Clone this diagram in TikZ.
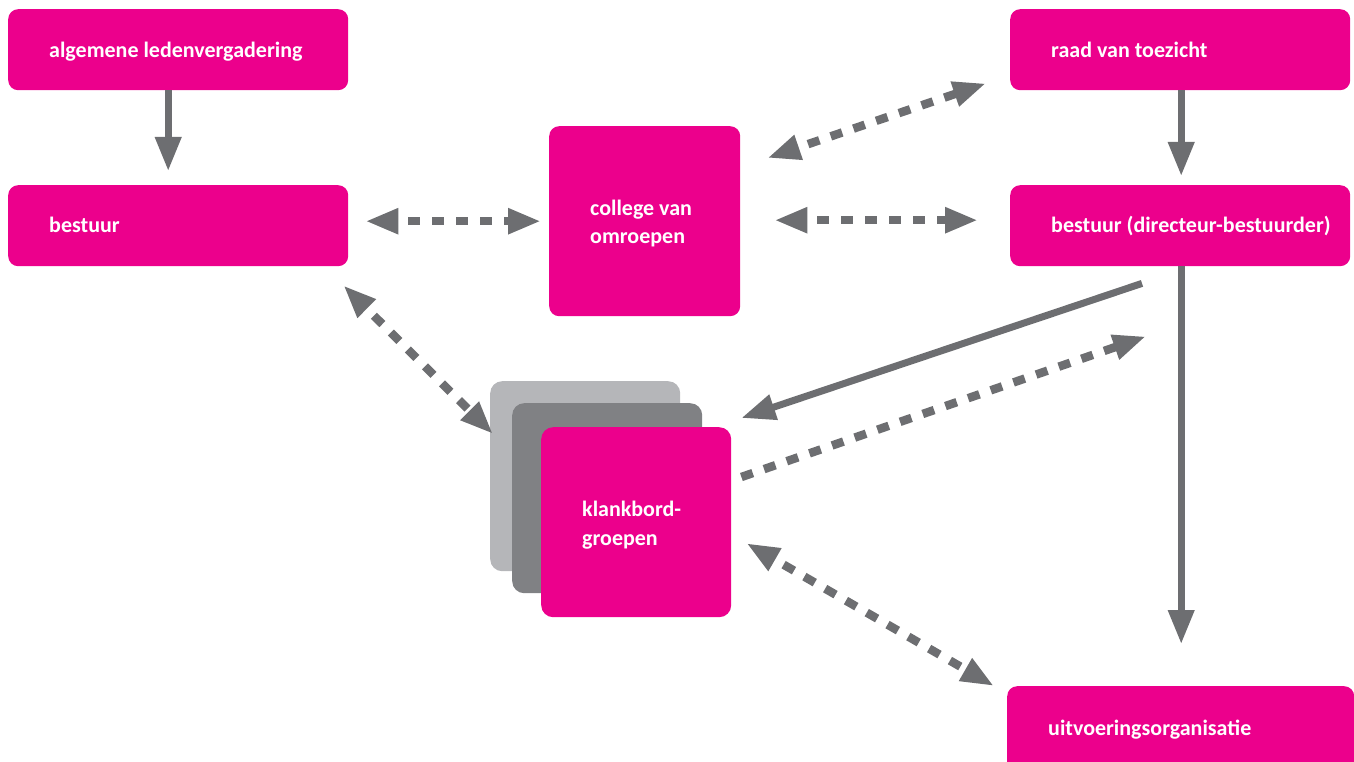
\documentclass[tikz,border=0pt]{standalone}
\usepackage{fontspec}
\setmainfont{Carlito}
\usetikzlibrary{arrows.meta,calc}
\definecolor{pinkc}{HTML}{EC008C}
\definecolor{arrowc}{HTML}{6D6E71}
\definecolor{lgray}{HTML}{B5B6B9}
\definecolor{dgray}{HTML}{808184}
\tikzset{
  box/.style={fill=pinkc, draw=none, rounded corners=10pt, anchor=north west, inner sep=0pt},
  wide/.style={box, minimum width=340pt, minimum height=81pt},
  lbl/.style={text=white, font=\fontsize{22}{28}\selectfont\bfseries, anchor=base west, inner sep=0pt, align=left},
  solidarr/.style={draw=arrowc, line width=7pt, -{Triangle[length=34pt,width=25pt]}},
  dasharr/.style={draw=arrowc, line width=8.5pt, dash pattern=on 12pt off 12pt, dash phase=12pt,
    {Triangle[length=33pt,width=24pt]}-{Triangle[length=33pt,width=24pt]}},
  dasharrone/.style={draw=arrowc, line width=8.5pt, dash pattern=on 12pt off 12pt,
    -{Triangle[length=33pt,width=24pt]}}
}
\begin{document}
\begin{tikzpicture}[x=1pt,y=-1pt]
\useasboundingbox (0,0) rectangle (1354,762);
% boxes
\node[wide] (alv) at (8,9) {};
\node[wide] (bst) at (8,185) {};
\node[wide] (raad) at (1010,9) {};
\node[wide] (bdb) at (1010,185) {};
\node[box, minimum width=191pt, minimum height=190pt] (col) at (549,126) {};
\node[box, minimum width=347pt, minimum height=90pt] (uit) at (1007,686) {};
\node[box, fill=lgray, rounded corners=12pt, minimum width=190pt, minimum height=190pt] (kb3) at (490,381) {};
\node[box, fill=dgray, rounded corners=12pt, minimum width=190pt, minimum height=190pt] (kb2) at (512,403) {};
\node[box, rounded corners=12pt, minimum width=190pt, minimum height=190pt] (kb) at (541,427) {};
% labels
\node[lbl] (talv) at (49,58) {algemene ledenvergadering};
\node[lbl] (tbst) at (49,233) {bestuur};
\node[lbl] (traad) at (1051,58) {raad van toezicht};
\node[lbl] (tbdb) at (1051,233) {bestuur (directeur-bestuurder)};
\node[lbl] (tcol1) at (590,215) {college van};
\node[lbl] (tcol2) at (590,243) {omroepen};
\node[lbl] (tkb1) at (582,516) {klankbord-};
\node[lbl] (tkb2) at (582,545) {groepen};
\node[lbl] (tuit) at (1048,735) {uitvoeringsorganisatie};
% solid arrows
\draw[solidarr] ($(alv.south)+(-10,0)$) -- ($(bst.north)+(-10,-14)$);
\draw[solidarr] ($(raad.south)+(1,0)$) -- ($(bdb.north)+(1,-9)$);
\draw[solidarr] ($(bdb.south)+(1,0)$) -- ($(uit.north)+(0.5,-42)$);
\draw[solidarr] ($(bdb.south west)+(132,17)$) -- ($(kb.north east)+(10,-9)$);
% dashed arrows
\draw[dasharr] ($(bst.east |- col.west)+(17,0)$) -- ($(col.west)+(-8,0)$);
\draw[dasharr] ($(col.east)+(34,-1)$) -- ($(bdb.west |- col.east)+(-32,-1)$);
\draw[dasharr] ($(col.north east)+(27,32)$) -- ($(raad.south west)+(-24,-7)$);
\draw[dasharr] ($(bst.south east)+(-5,19)$) -- ($(kb3.north west)+(3,53)$);
\draw[dasharr] ($(kb.east)+(15,21)$) -- ($(uit.north west)+(-13,0)$);
\draw[dasharrone] ($(kb.north east)+(10,50)$) -- ($(bdb.south west)+(136,70)$);
\end{tikzpicture}
\end{document}
